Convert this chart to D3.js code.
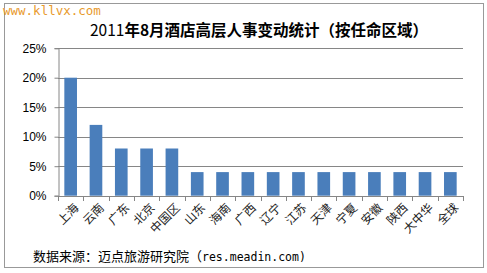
<!DOCTYPE html>
<html>
<head>
<meta charset="utf-8">
<script src="https://cdn.jsdelivr.net/npm/d3@7"></script>
<style>
  html, body { margin: 0; padding: 0; background: #fff; }
  svg { display: block; }
</style>
</head>
<body>
<svg id="chart" width="487" height="273"></svg>
<script>
const categories = ['上海', '云南', '广东', '北京', '中国区', '山东', '海南', '广西', '辽宁', '江苏', '天津', '宁夏', '安徽', '陕西', '大中华', '全球'];
const values = [20, 12, 8, 8, 8, 4, 4, 4, 4, 4, 4, 4, 4, 4, 4, 4];
const yTicks = [0, 5, 10, 15, 20, 25];

const svg = d3.select('#chart');
const cjk = '"SimSun", "Noto Sans CJK SC", sans-serif';

// outer frame
svg.append('rect').attr('x', 4.5).attr('y', 3.5).attr('width', 479).attr('height', 264)
  .attr('fill', '#fff').attr('stroke', '#999');

// watermark
svg.append('text').attr('x', 3).attr('y', 15)
  .attr('font-family', '"DejaVu Sans Mono", monospace').attr('font-size', '12.5px')
  .attr('fill', '#e89a2c').text('www.kllvx.com');

// title
const title = svg.append('text').attr('x', 259).attr('y', 36).attr('text-anchor', 'middle')
  .attr('font-family', '"Noto Sans CJK SC", sans-serif').attr('font-size', '15.5px')
  .attr('font-weight', 700).attr('fill', '#000');
title.append('tspan').attr('font-weight', 400).text('2011');
title.append('tspan').text('年8月酒店高层人事变动统计（按任命区域）');

const plot = { left: 58, right: 463, top: 48.2, bottom: 195.7 };

const x = d3.scaleBand().domain(categories).range([plot.left, plot.right]).paddingInner(0.5).paddingOuter(0.25);
const y = d3.scaleLinear().domain([0, 25]).range([plot.bottom, plot.top]);

// gridlines
svg.append('g').selectAll('line').data(yTicks.filter(d => d > 0)).enter().append('line')
  .attr('x1', plot.left).attr('x2', plot.right)
  .attr('y1', d => Math.round(y(d)) + 0.5).attr('y2', d => Math.round(y(d)) + 0.5)
  .attr('stroke', '#868686').attr('stroke-width', 1);

// bars
svg.append('g').selectAll('rect').data(values).enter().append('rect')
  .attr('x', (d, i) => x(categories[i]))
  .attr('width', x.bandwidth())
  .attr('y', d => y(d))
  .attr('height', d => y(0) - y(d))
  .attr('fill', '#4a7ebb');

// y axis
const yAxis = svg.append('g').attr('transform', `translate(${plot.left + 0.5},0)`)
  .call(d3.axisLeft(y).tickValues(yTicks).tickFormat(d => d + '%').tickSize(4).tickPadding(8));
yAxis.select('.domain').attr('stroke', '#868686');
yAxis.selectAll('.tick line').attr('stroke', '#868686');
yAxis.selectAll('.tick text').attr('font-family', '"Liberation Sans", Arial, sans-serif')
  .attr('font-size', '12px').attr('fill', '#000');

// x axis: ticks between categories
const xTickPos = d3.range(categories.length + 1).map(i => plot.left + i * (plot.right - plot.left) / categories.length);
svg.append('line').attr('x1', plot.left).attr('x2', plot.right)
  .attr('y1', Math.round(y(0)) + 0.5).attr('y2', Math.round(y(0)) + 0.5).attr('stroke', '#868686');
svg.append('g').selectAll('line').data(xTickPos).enter().append('line')
  .attr('x1', d => Math.round(d) + 0.5).attr('x2', d => Math.round(d) + 0.5)
  .attr('y1', Math.round(y(0))).attr('y2', Math.round(y(0)) + 5)
  .attr('stroke', '#868686');

// x labels rotated
svg.append('g').selectAll('text').data(categories).enter().append('text')
  .attr('transform', d => `translate(${x(d) + x.bandwidth() / 2 + 5},${plot.bottom + 9}) rotate(-45)`)
  .attr('text-anchor', 'end').attr('dominant-baseline', 'central')
  .attr('font-family', cjk).attr('font-size', '12px').attr('fill', '#222')
  .text(d => d);

// source note
const note = svg.append('text').attr('x', 33).attr('y', 261)
  .attr('font-family', cjk).attr('font-size', '13px').attr('fill', '#000');
note.append('tspan').text('数据来源：迈点旅游研究院（');
note.append('tspan').attr('font-family', '"DejaVu Sans Mono", monospace').attr('font-size', '11.5px')
  .text('res.meadin.com)');
</script>
</body>
</html>
